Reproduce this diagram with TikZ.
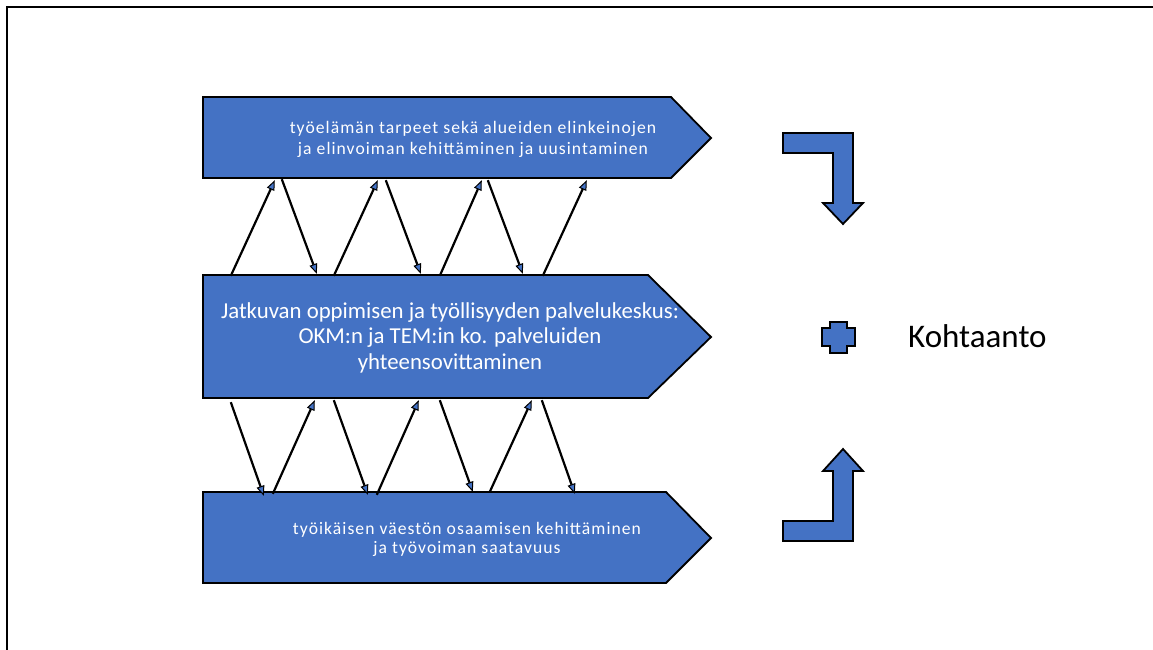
\documentclass[tikz,border=0pt]{standalone}
\usepackage{fontspec}
\setmainfont{Carlito}
\newfontfamily\spaced[LetterSpace=6]{Carlito}
\usetikzlibrary{arrows.meta,calc}
\definecolor{ppblue}{HTML}{4472C4}
\tikzset{
  shapebox/.style={fill=ppblue, draw=black, line width=1.8pt, line join=miter},
  boxlabel/.style={text=white, align=center, inner sep=0pt},
  link/.style={draw=black, line width=2.2pt, -{Triangle[length=10pt,width=8pt,fill=ppblue,line width=1pt]}},
}
\begin{document}
\begin{tikzpicture}[x=1pt,y=-1pt]
\useasboundingbox (0,0) rectangle (1153,650);
% frame
\draw[line width=1.8pt] (7,650) -- (7,7) -- (1153,7);
% pentagons
\draw[shapebox] (203,97) -- (671,97) -- (711,138) -- (671,178) -- (203,178) -- cycle;
\draw[shapebox] (203,275) -- (648,275) -- (711,337) -- (648,398) -- (203,398) -- cycle;
\draw[shapebox] (203,492) -- (666,492) -- (711,538) -- (666,583) -- (203,583) -- cycle;
% invisible body nodes
\node[minimum width=468pt, minimum height=81pt, inner sep=0pt] (top) at (437,137.5) {};
\node[minimum width=445pt, minimum height=123pt, inner sep=0pt] (mid) at (425.5,336.5) {};
\node[minimum width=463pt, minimum height=91pt, inner sep=0pt] (bot) at (434.5,537.5) {};
% texts
\node[boxlabel, font=\spaced\fontsize{17.6}{21}\selectfont] (toptext) at (473,139.5) {työelämän tarpeet sekä alueiden elinkeinojen\\ja elinvoiman kehittäminen ja uusintaminen};
\node[boxlabel, font=\fontsize{22.8}{25.5}\selectfont] (midtext) at (450,337.5) {Jatkuvan oppimisen ja työllisyyden palvelukeskus:\\OKM:n ja TEM:in ko. palveluiden\\yhteensovittaminen};
\node[boxlabel, font=\spaced\fontsize{17.6}{19}\selectfont] (bottext) at (467,539.5) {työikäisen väestön osaamisen kehittäminen\\ja työvoiman saatavuus};
% connectors top <-> middle
\draw[link] ($(mid.north west)+(28,1)$) -- ($(top.south west)+(72,2)$);
\draw[link] ($(top.south west)+(79,1)$) -- ($(mid.north west)+(114,-1)$);
\draw[link] ($(mid.north west)+(131,1)$) -- ($(top.south west)+(175,2)$);
\draw[link] ($(top.south west)+(183,2)$) -- ($(mid.north west)+(218,-1)$);
\draw[link] ($(mid.north west)+(237,1)$) -- ($(top.south west)+(279,2)$);
\draw[link] ($(top.south west)+(285,2)$) -- ($(mid.north west)+(320,-1)$);
\draw[link] ($(mid.north west)+(340,1)$) -- ($(top.south west)+(384,2)$);
% connectors middle <-> bottom
\draw[link] ($(mid.south west)+(28,4)$) -- ($(bot.north west)+(61,4)$);
\draw[link] ($(bot.north west)+(70,2)$) -- ($(mid.south west)+(112,2)$);
\draw[link] ($(mid.south west)+(131,2)$) -- ($(bot.north west)+(165,3)$);
\draw[link] ($(bot.north west)+(174,3)$) -- ($(mid.south west)+(216,2)$);
\draw[link] ($(mid.south west)+(237,2)$) -- ($(bot.north west)+(270,0)$);
\draw[link] ($(bot.north west)+(287,0)$) -- ($(mid.south west)+(329,2)$);
\draw[link] ($(mid.south west)+(339,2)$) -- ($(bot.north west)+(372,2)$);
% bent arrows
\draw[shapebox] (783,133) -- (853,133) -- (853,203) -- (863,203) -- (843,224) -- (823,203) -- (833,203) -- (833,153) -- (783,153) -- cycle;
\draw[shapebox] (843,449) -- (863,471) -- (853,471) -- (853,541) -- (783,541) -- (783,521) -- (833,521) -- (833,471) -- (823,471) -- cycle;
% plus
\draw[shapebox] (830,322) -- (847,322) -- (847,328) -- (855,328) -- (855,346) -- (847,346) -- (847,353) -- (830,353) -- (830,346) -- (822,346) -- (822,328) -- (830,328) -- cycle;
\node[anchor=base west, inner sep=0pt, font=\fontsize{33}{40}\selectfont] (kohtaanto) at (908,347) {Kohtaanto};
\end{tikzpicture}
\end{document}
